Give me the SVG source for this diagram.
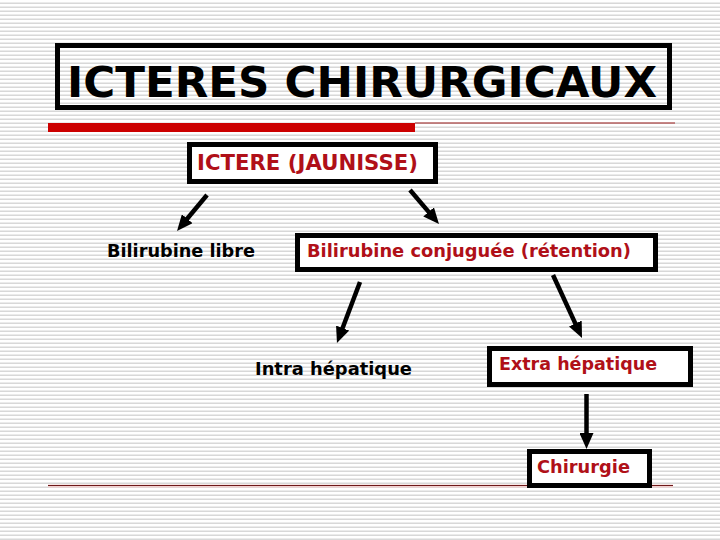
<svg xmlns="http://www.w3.org/2000/svg" width="720" height="540" viewBox="0 0 720 540">
  <defs>
    <pattern id="stripes" x="0" y="0" width="8" height="4" patternUnits="userSpaceOnUse">
      <rect x="0" y="0" width="8" height="4" fill="#ffffff"/>
      <rect x="0" y="2.5" width="8" height="1.5" fill="#d8d8d8"/>
    </pattern>
    <marker id="arr" markerUnits="userSpaceOnUse" markerWidth="16" markerHeight="14" viewBox="0 0 16 14" refX="4" refY="7" orient="auto">
      <path d="M0,0 L16,7 L0,14 z" fill="#000"/>
    </marker>
    <style>
      .box { fill: #ffffff; stroke: #000; stroke-width: 5; }
      .t { font-family: "DejaVu Sans", Verdana, sans-serif; font-weight: bold; font-size: 17.8px; }
      .big { font-size: 20.5px; }
      .red { fill: #b01018; }
      .blk { fill: #000; }
      .conn line { stroke: #000; stroke-width: 4.5; marker-end: url(#arr); }
    </style>
  </defs>

  <rect x="0" y="0" width="720" height="540" fill="url(#stripes)"/>

  <g id="title">
    <rect x="57.5" y="45.5" width="612" height="62" fill="none" stroke="#000" stroke-width="5"/>
    <text x="67" y="97" font-family="DejaVu Sans, Verdana, sans-serif" font-weight="bold" font-size="43.5" fill="#000" textLength="590" lengthAdjust="spacingAndGlyphs">ICTERES CHIRURGICAUX</text>
  </g>

  <g id="rules">
    <rect x="48" y="123" width="367" height="9" fill="#cc0000"/>
    <line x1="415" y1="123" x2="675" y2="123" stroke="#a02020" stroke-width="1"/>
    <line x1="48" y1="486" x2="673" y2="486" stroke="#f2d0d0" stroke-width="3"/>
    <line x1="48" y1="485.5" x2="673" y2="485.5" stroke="#6e1a1a" stroke-width="1.2"/>
  </g>

  <g id="ictere">
    <rect class="box" x="189.5" y="144.5" width="246" height="37"/>
    <text class="t big red" x="197" y="170" textLength="221" lengthAdjust="spacingAndGlyphs">ICTERE (JAUNISSE)</text>
  </g>

  <g id="bilirubine-libre">
    <text class="t blk" x="107" y="257" textLength="148" lengthAdjust="spacingAndGlyphs">Bilirubine libre</text>
  </g>

  <g id="bilirubine-conjuguee">
    <rect class="box" x="297.5" y="235.5" width="358" height="34"/>
    <text class="t red" x="307" y="257" textLength="324" lengthAdjust="spacingAndGlyphs">Bilirubine conjuguée (rétention)</text>
  </g>

  <g id="intra">
    <text class="t blk" x="255" y="375" textLength="157" lengthAdjust="spacingAndGlyphs">Intra hépatique</text>
  </g>

  <g id="extra">
    <rect class="box" x="489.5" y="348.5" width="201" height="36"/>
    <text class="t red" x="499" y="370" textLength="158" lengthAdjust="spacingAndGlyphs">Extra hépatique</text>
  </g>

  <g id="chirurgie">
    <rect class="box" x="529.5" y="451.5" width="120" height="34"/>
    <text class="t red" x="537" y="473" textLength="93" lengthAdjust="spacingAndGlyphs">Chirurgie</text>
  </g>

  <g id="connectors" class="conn">
    <line x1="207" y1="195" x2="184.7" y2="221.8"/>
    <line x1="410" y1="190" x2="431.2" y2="214.9"/>
    <line x1="360" y1="282" x2="341.2" y2="331.8"/>
    <line x1="553" y1="275" x2="577" y2="327.1"/>
    <line x1="586.5" y1="394" x2="586.5" y2="437"/>
  </g>
</svg>
